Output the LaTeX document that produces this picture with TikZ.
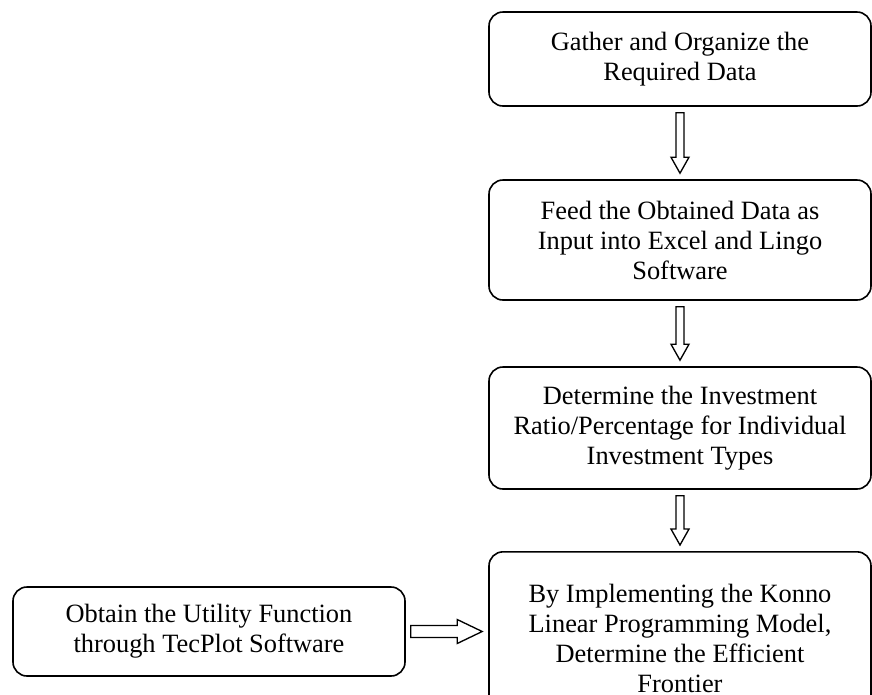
\documentclass[tikz,border=0pt]{standalone}
\usepackage{fontspec}
\setmainfont{Liberation Serif}
\usepackage{tikz}
\usetikzlibrary{calc}

\tikzset{
	stepbox/.style={draw=black, line width=1.2pt, rounded corners=10.5pt, align=center,
		minimum width=286.5pt, inner sep=0pt, font=\fontsize{19.8}{22.5}\selectfont},
	hollow/.style={draw=black, line width=1pt, fill=white, line join=miter}
}

% hollow block arrow, straight down from #1 to #2
\newcommand{\hollowdown}[2]{%
	\draw[hollow] ($ (#1.south)+(-4,6) $) -- ($ (#2.north)+(-4,-22) $) -- ++(-5,0)
		-- ($ (#2.north)+(0,-6) $) -- ($ (#2.north)+(9,-22) $) -- ++(-5,0)
		-- ($ (#1.south)+(4,6) $) -- cycle;}

\begin{document}
\begin{tikzpicture}[x=0.75pt, y=-0.75pt]

	\useasboundingbox (0,0) rectangle (872,694);
	\clip (0,0) rectangle (872,694);

	\node[stepbox, minimum height=70.5pt] (gather) at (680,59)
		{Gather and Organize the\\Required Data};
	\node[stepbox, minimum height=90pt] (feed) at (680,240)
		{Feed the Obtained Data as\\Input into Excel and Lingo\\Software};
	\node[stepbox, minimum height=91.5pt] (ratio) at (680,428)
		{Determine the Investment\\Ratio/Percentage for Individual\\Investment Types};
	\node[stepbox, minimum height=130pt] (konno) at (680,638.5)
		{By Implementing the Konno\\Linear Programming Model,\\Determine the Efficient\\Frontier};
	\node[stepbox, minimum width=294pt, minimum height=66.75pt] (utility) at (209,631.5)
		{Obtain the Utility Function\\through TecPlot Software};

	\hollowdown{gather}{feed}
	\hollowdown{feed}{ratio}
	\hollowdown{ratio}{konno}

	% sideways arrow into the last step
	\coordinate (tip) at ($ (utility.east -| konno.west)+(-6,0) $);
	\draw[hollow] ($ (utility.east)+(5,-6) $) -- ($ (tip)+(-25,-6) $) -- ++(0,-6)
		-- (tip) -- ($ (tip)+(-25,12) $) -- ++(0,-6)
		-- ($ (utility.east)+(5,6) $) -- cycle;

\end{tikzpicture}
\end{document}
